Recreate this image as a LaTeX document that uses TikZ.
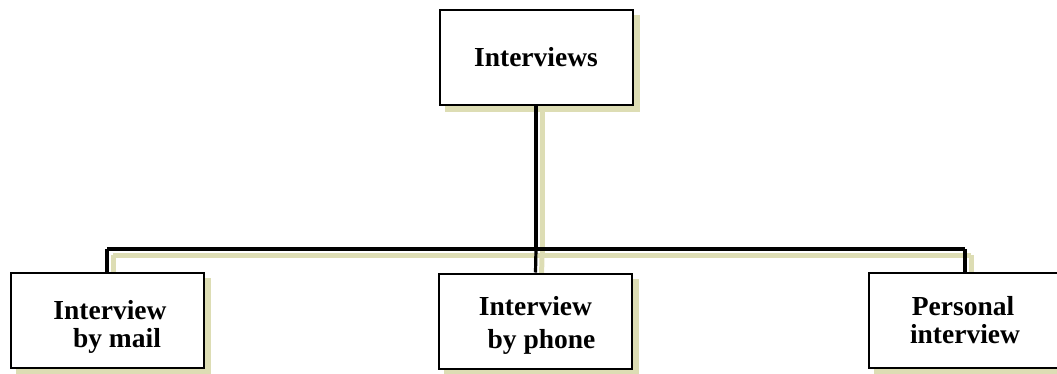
\documentclass[tikz,border=0pt]{standalone}
\usepackage{fontspec}
\setmainfont{Liberation Serif}
\definecolor{shadowc}{RGB}{221,221,180}
\begin{document}
\begin{tikzpicture}[x=1pt,y=-1pt,
  box/.style={draw=black, line width=2pt, fill=white, minimum width=193pt, minimum height=95pt,
    inner sep=0pt, align=center, font=\fontsize{27.5}{28}\selectfont\bfseries},
  shadowbox/.style={fill=shadowc, minimum width=195pt, minimum height=97pt, inner sep=0pt},
  conn/.style={draw=black, line width=3.2pt},
  shadowconn/.style={draw=shadowc, line width=5pt}]
\useasboundingbox (0,0) rectangle (1057,373);
% shadows
\begin{scope}[shift={(6,6)}]
  \node[shadowbox] (sTop) at (536,57) {};
  \node[shadowbox] (sMail) at (107,320.5) {};
  \node[shadowbox] (sPhone) at (535.5,321) {};
  \node[shadowbox] (sPers) at (965,320.5) {};
  \coordinate (sHL) at (107,249);
  \coordinate (sHM) at (536,249);
  \coordinate (sHR) at (965,249);
  \draw[shadowconn] (sTop.south) -- (sHM);
  \draw[shadowconn] (sHL) -- (sHR);
  \draw[shadowconn] (sHL) -- (sMail.north);
  \draw[shadowconn] (sHM) -- (sPhone.north);
  \draw[shadowconn] (sHR) -- (sPers.north);
\end{scope}
% connectors
\coordinate (hL) at (107,249);
\coordinate (hM) at (536,249);
\coordinate (hR) at (965,249);
\node[box] (top) at (536,57) {Interviews};
\node[box] (mail) at (107,320.5) {\rule{0pt}{32pt}\hspace*{6pt}Interview\\ \hspace*{20pt}by mail};
\node[box] (phone) at (535.5,321) {\rule{0pt}{27pt}Interview\\[5pt] \hspace*{12pt}by phone};
\node[box] (pers) at (965,320.5) {Personal\hspace*{4pt}\\ interview};
\draw[conn] (top.south) -- (hM);
\draw[conn] (hL) -- (hR);
\draw[conn] (hL) -- (mail.north);
\draw[conn] (hM) -- (phone.north);
\draw[conn] (hR) -- (pers.north);
\end{tikzpicture}
\end{document}
